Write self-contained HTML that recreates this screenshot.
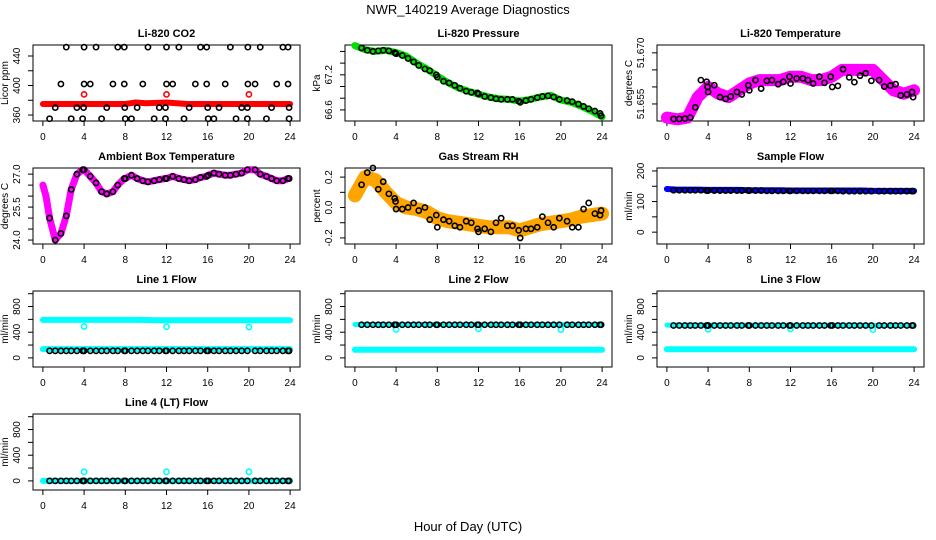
<!DOCTYPE html>
<html><head><meta charset="utf-8"><style>
body{margin:0;background:#fff}
svg{display:block;font-family:"Liberation Sans",sans-serif}
</style></head><body>
<svg id="c" width="936" height="540" viewBox="0 0 936 540">
<rect width="936" height="540" fill="#fff"/>
<text x="468" y="14" font-size="13" text-anchor="middle">NWR_140219  Average Diagnostics</text>
<text x="468" y="531" font-size="13" text-anchor="middle">Hour of Day (UTC)</text>
</svg>
<script>
const xTicks=[0,4,8,12,16,20,24];
const H=[0.65,1.2,1.75,2.27,2.75,3.3,3.86,3.95,4.0,4.6,5.16,5.7,6.2,6.8,7.27,7.9,8.0,8.6,9.15,9.7,10.2,10.8,11.3,11.9,12.0,12.6,13.2,13.7,14.2,14.8,15.3,15.9,16.05,16.6,17.1,17.7,18.2,18.75,19.3,19.85,20.6,21.1,21.7,22.2,22.7,23.3,23.8,23.9];
const hourly=[0,1,2,3,4,5,6,7,8,9,10,11,12,13,14,15,16,17,18,19,20,21,22,23,24];
const outH=[4,12,20];
// CO2
const co2H=[2.27,4.0,5.16,7.27,7.9,10.2,12,13.2,15.3,15.9,18.2,19.9,21.1,23.3,23.8, 1.75,4,4.6,6.8,7.9,9.7,12,12.6,14.8,15.9,17.7,19.9,20.6,22.7,23.8, 1.2,3.3,3.95,6.2,7.95,9.15,11.3,11.9,14.2,16,17.1,19.3,19.85,22.2,23.9, 0.65,2.75,3.86,5.7,8,8.6,10.8,11.9,13.7,16.05,16.6,18.75,19.85,21.7,23.9];
const co2V=[452,452,452,452,452,452,452,452,452,452,452,452,452,452,452, 402,402,402,402,402,402,402,402,402,402,402,402,402,402,402, 370,370,370,370,370,370,370,370,370,370,370,370,370,370,370, 355,355,355,355,355,355,355,355,355,355,355,355,355,355,355];
const co2BandH=[0,4,8,9,10,12,14,16,20,24];
const co2BandV=[375,375,375,377,376,377,375,375,375,375];
const co2OutV=[388,388,388];
// Pressure
const presV=[67.66,67.62,67.6,67.61,67.62,67.61,67.58,67.57,67.56,67.53,67.48,67.42,67.36,67.3,67.27,67.2,67.16,67.09,67.06,67.02,66.97,66.92,66.9,66.89,66.87,66.83,66.81,66.79,66.78,66.78,66.78,66.75,66.73,66.76,66.78,66.81,66.83,66.84,66.82,66.78,66.76,66.74,66.7,66.66,66.62,66.58,66.54,66.5];
const presBandV=[67.7,67.63,67.6,67.62,67.58,67.52,67.4,67.3,67.18,67.07,66.98,66.92,66.87,66.82,66.79,66.78,66.75,66.78,66.82,66.85,66.77,66.73,66.66,66.58,66.48];
// Li-820 temperature
const tempV=[51.6506,51.6506,51.6507,51.651,51.654,51.662,51.6615,51.66,51.6585,51.6605,51.657,51.6565,51.6572,51.6585,51.6578,51.6605,51.659,51.662,51.6595,51.6618,51.662,51.6608,51.6615,51.663,51.661,51.6625,51.6625,51.662,51.661,51.663,51.6612,51.663,51.66,51.6603,51.6652,51.6628,51.6614,51.6633,51.664,51.6618,51.662,51.6601,51.6604,51.6608,51.6575,51.6578,51.6585,51.657];
const tempBandV=[51.651,51.6505,51.651,51.657,51.660,51.658,51.657,51.659,51.661,51.662,51.662,51.662,51.663,51.663,51.662,51.662,51.663,51.665,51.665,51.665,51.665,51.662,51.659,51.658,51.659];
// Ambient
const ambV=[25.0,24.0,24.3,25.1,26.3,27.0,27.2,27.2,27.2,26.9,26.6,26.2,26.1,26.2,26.5,26.8,26.8,26.95,26.8,26.7,26.65,26.7,26.75,26.8,26.8,26.9,26.8,26.75,26.7,26.75,26.85,26.9,26.95,27.05,27.0,26.95,26.95,27.0,27.05,27.2,27.2,27.0,26.9,26.8,26.7,26.7,26.8,26.8];
const ambStartH=[0,0.3];
const ambStartV=[26.5,26.0];
// RH
const rhV=[0.15,0.23,0.26,0.12,0.17,0.09,0.06,0.04,-0.01,-0.01,0.0,0.03,-0.02,0.0,-0.08,-0.05,-0.13,-0.08,-0.09,-0.12,-0.13,-0.09,-0.1,-0.14,-0.16,-0.14,-0.16,-0.1,-0.07,-0.12,-0.12,-0.15,-0.2,-0.14,-0.14,-0.13,-0.06,-0.1,-0.13,-0.07,-0.09,-0.13,-0.13,-0.01,0.03,-0.04,-0.05,-0.02];
const rhBandV=[0.08,0.2,0.18,0.1,0.03,0.0,-0.01,-0.03,-0.07,-0.09,-0.1,-0.11,-0.12,-0.13,-0.13,-0.13,-0.15,-0.13,-0.11,-0.1,-0.09,-0.08,-0.06,-0.05,-0.04];
// Sample flow
const sampV=[137,137,137,137,137,137,136,136,136,136,136,136,136,136,136,136,136,136,136,135,135,135,135,135,135,135,135,135,135,135,135,135,135,135,134,134,134,134,134,134,134,134,134,134,134,134,134,134];
const sampBandV=[141,139,139,139,138,138,138,138,137,137,137,137,136,136,136,136,136,136,136,136,135,135,135,135,135];
// Line flows
const l1BlackV=H.map(()=>110);
const l1HighV=[592,592,592,592,592,592,592,592,592,592,590,585,585,585,585,585,585,585,585,585,585,585,585,585,585];
const l1LowV=[137,137,137,137,137,137,137,137,137,137,137,137,137,137,137,137,137,137,137,137,137,137,137,137,137];
const l1OutV=[490,485,480];
const l2BlackV=H.map(()=>516);
const l2HighV=[520,520,520,520,520,520,520,520,520,520,520,520,518,518,518,518,518,518,518,518,518,518,518,518,518];
const l2LowV=[128,128,128,128,128,128,128,128,128,128,128,128,128,128,128,128,128,128,128,128,128,128,128,128,128];
const l2OutV=[442,452,440];
const l3BlackV=H.map(()=>505);
const l3HighV=[510,510,510,510,510,510,510,510,510,510,508,508,508,508,508,508,508,508,508,508,505,505,505,505,505];
const l3LowV=[135,135,135,135,135,135,135,135,135,135,135,135,135,135,135,135,135,135,135,135,135,135,135,135,135];
const l3OutV=[445,450,440];
const l4BlackV=H.map(()=>0);
const l4LowV=[0,0,0,0,0,0,0,0,0,0,0,0,0,0,0,0,0,0,0,0,0,0,0,0,0];
const l4OutV=[141,141,141];

const NS='http://www.w3.org/2000/svg';
const svg=document.getElementById('c');
function mk(tag,attrs,parent){const e=document.createElementNS(NS,tag);for(const k in attrs)e.setAttribute(k,attrs[k]);(parent||svg).appendChild(e);return e;}
const colX=[[33,300],[345,612],[657,924]];
const rowY=[[45,121],[168,244],[291,367],[414,490]];
function Panel(col,row,lo,hi,title,ytitle,yticks,ylabels,slug){
  const p={x0:colX[col][0],x1:colX[col][1],y0:rowY[row][0],y1:rowY[row][1],lo,hi};
  p.sx=h=>p.x0+(h+0.96)/25.92*(p.x1-p.x0);
  p.sy=v=>p.y1-(v-lo)/(hi-lo)*(p.y1-p.y0);
  const g=mk('g',{});
  
  
  p.g=g;
  const t=mk('text',{x:(p.x0+p.x1)/2,y:p.y0-8,'font-size':11,'font-weight':'bold','text-anchor':'middle'},g);
  t.textContent=title;
  
  
  const b=mk('rect',{x:p.x0,y:p.y0,width:p.x1-p.x0,height:p.y1-p.y0,fill:'none',stroke:'#000','stroke-width':1},g);
  
  
  const xa=mk('g',{},g);
  
  
  mk('line',{x1:p.sx(0),x2:p.sx(24),y1:p.y1,y2:p.y1,stroke:'#000'},xa);
  xTicks.forEach(v=>{const x=p.sx(v);mk('line',{x1:x,x2:x,y1:p.y1,y2:p.y1+5,stroke:'#000'},xa);
    const tl=mk('text',{x:x,y:p.y1+19,'font-size':10,'text-anchor':'middle'},xa);tl.textContent=v;});
  const ya=mk('g',{},g);
  
  
  yticks.forEach(v=>{const y=p.sy(v);mk('line',{x1:p.x0-5,x2:p.x0,y1:y,y2:y,stroke:'#000'},ya);});
  ylabels.forEach(v=>{const y=p.sy(v);const tl=mk('text',{x:0,y:0,'font-size':10,'text-anchor':'middle',transform:`translate(${p.x0-13},${y}) rotate(-90)`},ya);tl.textContent=v;});
  const yt=mk('text',{x:0,y:0,'font-size':10,'text-anchor':'middle',transform:`translate(${p.x0-25},${(p.y0+p.y1)/2}) rotate(-90)`},g);
  yt.textContent=ytitle;
  
  
  return p;
}
function band(p,hs,vs,color,w,name){
  const pts=hs.map((h,i)=>p.sx(h).toFixed(1)+','+p.sy(vs[i]).toFixed(1)).join(' ');
  const e=mk('polyline',{points:pts,fill:'none',stroke:color,'stroke-width':w,'stroke-linejoin':'round','stroke-linecap':'round'},p.g);
  
  
}
function pts(p,hs,vs,color,name){
  const g=mk('g',{},p.g);
  
  
  hs.forEach((h,i)=>{mk('circle',{cx:p.sx(h),cy:p.sy(vs[i]),r:2.6,fill:'none',stroke:color,'stroke-width':1.6},g);});
}
let p;
p=Panel(0,0,351.9,454.9,'Li-820 CO2','Licor ppm',[360,380,400,420,440],[360,400,440],'co2');
band(p,co2BandH,co2BandV,'#ff0000',6,'co2-minute-band');
pts(p,outH,co2OutV,'#ff0000','co2-red-outliers');
pts(p,co2H,co2V,'#000','co2-average-points');

p=Panel(1,0,66.41,67.71,'Li-820 Pressure','kPa',[66.6,66.8,67.0,67.2,67.4,67.6],['66.6','67.2'],'pressure');
band(p,hourly,presBandV,'#00e000',7,'pressure-minute-band');
pts(p,H,presV,'#000','pressure-average-points');

p=Panel(2,0,51.650,51.6723,'Li-820 Temperature','degrees C',[51.655,51.660,51.665,51.670],['51.655','51.670'],'temperature');
band(p,hourly,tempBandV,'#ff00ff',12,'temperature-minute-band');
pts(p,H,tempV,'#000','temperature-average-points');

p=Panel(0,1,23.82,27.28,'Ambient Box Temperature','degrees C',[24,24.5,25,25.5,26,26.5,27],['24.0','25.5','27.0'],'ambient');
band(p,ambStartH.concat(H),ambStartV.concat(ambV),'#ff00ff',7,'ambient-minute-band');
pts(p,H,ambV,'#000','ambient-average-points');

p=Panel(1,1,-0.24,0.26,'Gas Stream RH','percent',[-0.2,-0.1,0,0.1,0.2],['-0.2','0.0','0.2'],'rh');
band(p,hourly,rhBandV,'#ffa500',14,'rh-minute-band');
pts(p,H,rhV,'#000','rh-average-points');

p=Panel(2,1,-38.7,209.7,'Sample Flow','ml/min',[0,50,100,150,200],[0,100,200],'sample-flow');
band(p,hourly,sampBandV,'#0000ff',6,'sample-flow-minute-band');
pts(p,H,sampV,'#000','sample-flow-average-points');

const lt=[0,200,400,600,800,1000], ll=[0,400,800];
p=Panel(0,2,-142,1042,'Line 1 Flow','ml/min',lt,ll,'line1');
band(p,hourly,l1HighV,'#00ffff',6,'line1-high-band');
band(p,hourly,l1LowV,'#00ffff',6,'line1-low-band');
pts(p,outH,l1OutV,'#00ffff','line1-outliers');
pts(p,H,l1BlackV,'#000','line1-average-points');

p=Panel(1,2,-142,1042,'Line 2 Flow','ml/min',lt,ll,'line2');
band(p,hourly,l2HighV,'#00ffff',5,'line2-high-band');
band(p,hourly,l2LowV,'#00ffff',6,'line2-low-band');
pts(p,outH,l2OutV,'#00ffff','line2-outliers');
pts(p,H,l2BlackV,'#000','line2-average-points');

p=Panel(2,2,-142,1042,'Line 3 Flow','ml/min',lt,ll,'line3');
band(p,hourly,l3HighV,'#00ffff',5,'line3-high-band');
band(p,hourly,l3LowV,'#00ffff',6,'line3-low-band');
pts(p,outH,l3OutV,'#00ffff','line3-outliers');
pts(p,H,l3BlackV,'#000','line3-average-points');

p=Panel(0,3,-142,1042,'Line 4 (LT) Flow','ml/min',lt,ll,'line4');
band(p,hourly,l4LowV,'#00ffff',6,'line4-band');
pts(p,outH,l4OutV,'#00ffff','line4-outliers');
pts(p,H,l4BlackV,'#000','line4-average-points');
</script>
</body></html>
